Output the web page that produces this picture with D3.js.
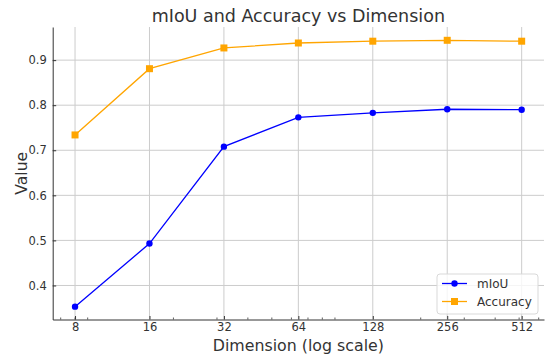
<!DOCTYPE html>
<html>
<head>
<meta charset="utf-8">
<script src="https://cdn.jsdelivr.net/npm/d3@7"></script>
<style>
  body { margin: 0; background: #fff; }
  svg text { font-family: "DejaVu Sans", sans-serif; fill: #333; }
</style>
</head>
<body>
<svg id="chart" width="546" height="358"></svg>
<script>
// data
const dims = [8, 16, 32, 64, 128, 256, 512];
const miou = [0.353, 0.493, 0.708, 0.773, 0.783, 0.791, 0.790];
const accuracy = [0.734, 0.881, 0.927, 0.938, 0.942, 0.944, 0.942];
const yTicks = [0.4, 0.5, 0.6, 0.7, 0.8, 0.9];
const minorTicks = [7, 8, 9, 20, 30, 40, 50, 60, 70, 80, 90, 200, 300, 400, 500, 600];

// plot box
const box = { left: 52.7, right: 544, top: 27, bottom: 319.5 };
const svg = d3.select("#chart");

const x = d3.scaleLog().base(2)
    .domain([Math.pow(2, 2.7), Math.pow(2, 9.3)])
    .range([box.left, box.right]);
const y = d3.scaleLinear()
    .domain([0.3245, 0.9735])
    .range([box.bottom, box.top]);

// grid
svg.append("g").selectAll("line")
  .data(dims).enter().append("line")
    .attr("x1", d => x(d)).attr("x2", d => x(d))
    .attr("y1", box.top).attr("y2", box.bottom)
    .attr("stroke", "#cccccc").attr("stroke-width", 1);
svg.append("g").selectAll("line")
  .data(yTicks).enter().append("line")
    .attr("x1", box.left).attr("x2", box.right)
    .attr("y1", d => y(d)).attr("y2", d => y(d))
    .attr("stroke", "#cccccc").attr("stroke-width", 1);

// x axis
const xAxis = svg.append("g")
    .attr("transform", `translate(0,${box.bottom})`)
    .call(d3.axisBottom(x).tickValues(dims).tickFormat(d3.format("d"))
        .tickSizeInner(-3.5).tickSizeOuter(0).tickPadding(3.5));
xAxis.select(".domain").attr("stroke", "#333");
xAxis.selectAll(".tick line").attr("stroke", "#333");
xAxis.selectAll("text").style("font-size", "11.5px").attr("fill", "#333");

svg.append("g").selectAll("line")
  .data(minorTicks.filter(d => x(d) >= box.left && x(d) <= box.right)).enter().append("line")
    .attr("x1", d => x(d)).attr("x2", d => x(d))
    .attr("y1", box.bottom).attr("y2", box.bottom - 2)
    .attr("stroke", "#333").attr("stroke-width", 0.8);

// y axis
const yAxis = svg.append("g")
    .attr("transform", `translate(${box.left},0)`)
    .call(d3.axisLeft(y).tickValues(yTicks).tickFormat(d3.format(".1f"))
        .tickSizeInner(-3.5).tickSizeOuter(0).tickPadding(6));
yAxis.select(".domain").attr("stroke", "#333");
yAxis.selectAll(".tick line").attr("stroke", "#333");
yAxis.selectAll("text").style("font-size", "11.5px").attr("fill", "#333");

// lines
const line = d3.line()
    .x((d, i) => x(dims[i]))
    .y(d => y(d));

svg.append("path")
    .datum(accuracy)
    .attr("fill", "none")
    .attr("stroke", "#ffa500")
    .attr("stroke-width", 1.3)
    .attr("d", line);
svg.append("g").selectAll("rect")
  .data(accuracy).enter().append("rect")
    .attr("x", (d, i) => x(dims[i]) - 3.5)
    .attr("y", d => y(d) - 3.5)
    .attr("width", 7).attr("height", 7)
    .attr("fill", "#ffa500");

svg.append("path")
    .datum(miou)
    .attr("fill", "none")
    .attr("stroke", "#0000ff")
    .attr("stroke-width", 1.3)
    .attr("d", line);
svg.append("g").selectAll("circle")
  .data(miou).enter().append("circle")
    .attr("cx", (d, i) => x(dims[i]))
    .attr("cy", d => y(d))
    .attr("r", 3.2)
    .attr("fill", "#0000ff");

// titles
svg.append("text")
    .attr("x", (box.left + box.right) / 2)
    .attr("y", 22)
    .attr("text-anchor", "middle")
    .style("font-size", "17.5px")
    .text("mIoU and Accuracy vs Dimension");

svg.append("text")
    .attr("x", (box.left + box.right) / 2)
    .attr("y", 350.5)
    .attr("text-anchor", "middle")
    .style("font-size", "15.8px")
    .text("Dimension (log scale)");

svg.append("text")
    .attr("transform", "rotate(-90)")
    .attr("x", -(box.top + box.bottom) / 2)
    .attr("y", 27)
    .attr("text-anchor", "middle")
    .style("font-size", "15.6px")
    .text("Value");

// legend
const legend = svg.append("g").attr("transform", "translate(437,274)");
legend.append("rect")
    .attr("width", 101).attr("height", 40)
    .attr("rx", 3)
    .attr("fill", "#fff").attr("fill-opacity", 0.8)
    .attr("stroke", "#d9d9d9");
const items = [
  { name: "mIoU", color: "#0000ff", shape: "circle" },
  { name: "Accuracy", color: "#ffa500", shape: "square" }
];
items.forEach((it, i) => {
  const g = legend.append("g").attr("transform", `translate(0,${9.5 + i * 18})`);
  g.append("line").attr("x1", 5).attr("x2", 30)
      .attr("stroke", it.color).attr("stroke-width", 1.3);
  if (it.shape === "circle") {
    g.append("circle").attr("cx", 17.5).attr("r", 3.2).attr("fill", it.color);
  } else {
    g.append("rect").attr("x", 14).attr("y", -3.5).attr("width", 7).attr("height", 7).attr("fill", it.color);
  }
  g.append("text").attr("x", 40).attr("y", 4.4)
      .style("font-size", "12px").text(it.name);
});
</script>
</body>
</html>
